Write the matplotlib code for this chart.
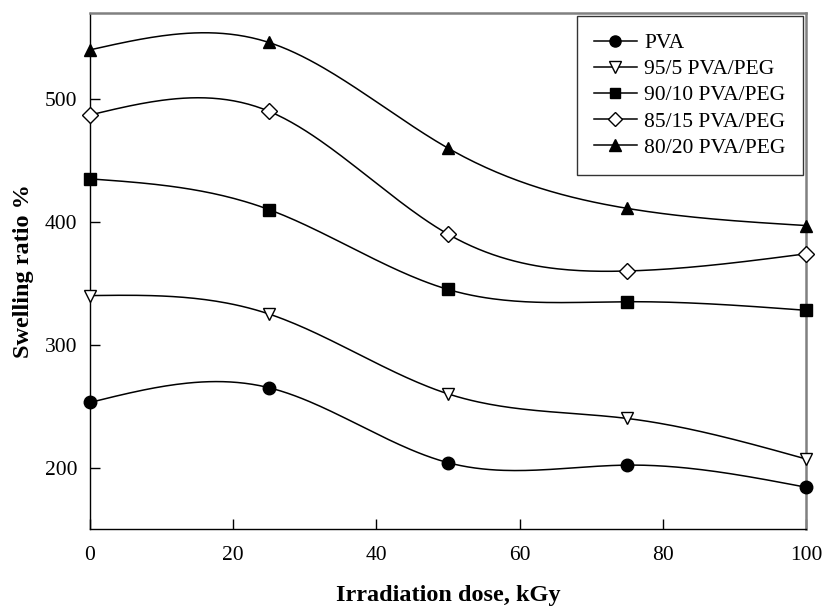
#coding: utf-8
import numpy as np
import matplotlib
matplotlib.use("Agg")
import matplotlib.pyplot as plt

plt.rcParams['font.family'] = ['Liberation Serif', 'DejaVu Serif']

# # # # # データ # # # # #
dose = [0, 25, 50, 75, 100]
pva = [253, 265, 204, 202, 184]
peg_95_5 = [340, 325, 260, 240, 207]
peg_90_10 = [435, 410, 345, 335, 328]
peg_85_15 = [487, 490, 390, 360, 374]
peg_80_20 = [540, 546, 460, 411, 397]

labels = ['PVA', '95/5 PVA/PEG', '90/10 PVA/PEG', '85/15 PVA/PEG', '80/20 PVA/PEG']
markers = ['o', 'v', 's', 'D', '^']
faces = ['black', 'white', 'black', 'white', 'black']
msizes = [9, 9, 8, 8, 9]


# natural cubic spline (no scipy)
def spline(x, y, n=200):
    x = np.asarray(x, float)
    y = np.asarray(y, float)
    k = len(x)
    h = np.diff(x)
    A = np.zeros((k, k))
    b = np.zeros(k)
    A[0, 0] = 1.0
    A[-1, -1] = 1.0
    for i in range(1, k - 1):
        A[i, i - 1] = h[i - 1]
        A[i, i] = 2.0 * (h[i - 1] + h[i])
        A[i, i + 1] = h[i]
        b[i] = 3.0 * ((y[i + 1] - y[i]) / h[i] - (y[i] - y[i - 1]) / h[i - 1])
    c = np.linalg.solve(A, b)
    xs = np.linspace(x[0], x[-1], n)
    ys = np.zeros(n)
    for j, xv in enumerate(xs):
        i = min(np.searchsorted(x, xv, side='right') - 1, k - 2)
        dx = xv - x[i]
        bi = (y[i + 1] - y[i]) / h[i] - h[i] * (2 * c[i] + c[i + 1]) / 3.0
        di = (c[i + 1] - c[i]) / (3.0 * h[i])
        ys[j] = y[i] + bi * dx + c[i] * dx ** 2 + di * dx ** 3
    return xs, ys


# # # # # 作図 # # # # #
fig = plt.figure(figsize=(8.24, 6.07), dpi=100)
ax = fig.add_axes([90 / 824, 1 - 529 / 607, 716 / 824, 516 / 607])

series = [pva, peg_95_5, peg_90_10, peg_85_15, peg_80_20]
for y, lab, m, fc, ms in zip(series, labels, markers, faces, msizes):
    xs, ys = spline(dose, y)
    ax.plot(xs, ys, color='black', lw=1.1, zorder=2)
    ax.plot(dose, y, linestyle='none', marker=m, markerfacecolor=fc,
            markeredgecolor='black', markersize=ms, mew=1, zorder=3, clip_on=False)
    ax.plot([], [], color='black', lw=1.1, marker=m, markerfacecolor=fc,
            markeredgecolor='black', markersize=ms - 1, label=lab)

ax.set_xlim(0, 100)
ax.set_ylim(150, 570)
ax.set_xticks([0, 20, 40, 60, 80, 100])
ax.set_yticks([200, 300, 400, 500])
ax.tick_params(direction='in', length=7, width=1, labelsize=15.5, pad=12)
ax.tick_params(axis='y', pad=9)

for s in ['top', 'right']:
    ax.spines[s].set_color('#808080')
    ax.spines[s].set_linewidth(1.8)
for s in ['left', 'bottom']:
    ax.spines[s].set_color('black')
    ax.spines[s].set_linewidth(1.0)

ax.set_xlabel('Irradiation dose, kGy', fontsize=17.5, fontweight='bold', labelpad=15)
ax.set_ylabel('Swelling ratio %', fontsize=17.5, fontweight='bold', labelpad=8)

leg = ax.legend(loc='upper right', bbox_to_anchor=(803 / 824, 1 - 16 / 607),
                bbox_transform=fig.transFigure, fontsize=15.5, frameon=True,
                fancybox=False, edgecolor='black', handlelength=2.0,
                labelspacing=0.28, borderpad=0.8, handletextpad=0.35, borderaxespad=0)
leg.get_frame().set_linewidth(1.0)

fig.savefig("out.png", dpi=100)
